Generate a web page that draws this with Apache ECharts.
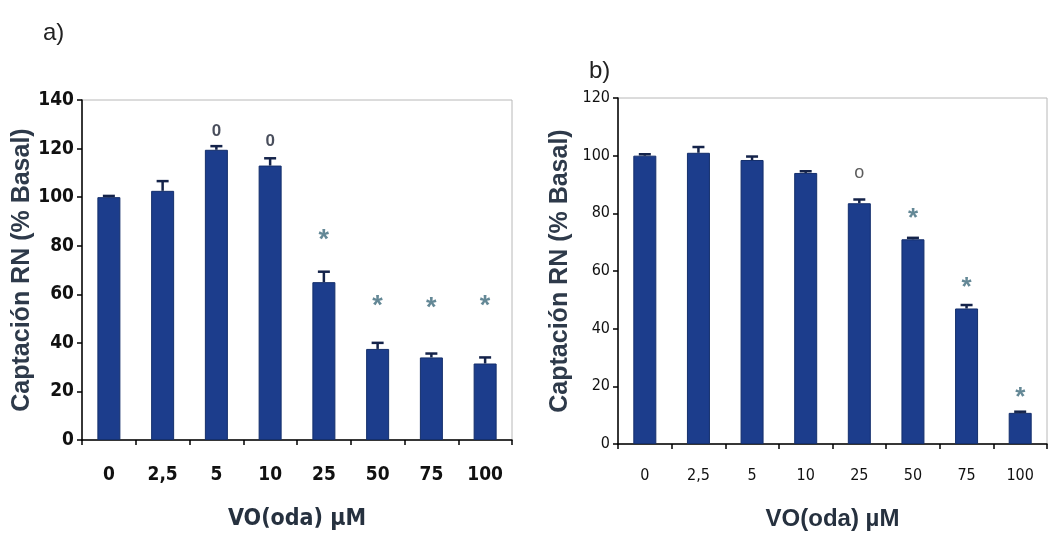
<!DOCTYPE html>
<html>
<head>
<meta charset="utf-8">
<script src="https://cdn.jsdelivr.net/npm/echarts@6/dist/echarts.min.js"></script>
<style>
  html, body { margin: 0; padding: 0; background: #fff; }
  #chart { width: 1048px; height: 536px; }
</style>
</head>
<body>
<div id="chart"></div>
<script>
// categorías (concentración VO(oda), µM)
const doses = ['0', '2,5', '5', '10', '25', '50', '75', '100'];

// panel a)
const valuesA = [100, 102.6, 119.5, 113, 65, 37.5, 34, 31.5];
const errorsA = [0.5, 4, 1.5, 3, 4.3, 2.5, 1.6, 2.5];
const marksA = ['', '', '0', '0', '*', '*', '*', '*'];
const marksAY = [null, null, 127, 123, 82, 55, 54, 55];

// panel b)
const valuesB = [100, 101, 98.5, 94, 83.5, 71, 47, 10.8];
const errorsB = [0.5, 2, 1.2, 0.6, 1.3, 0.5, 1.2, 0.4];
const marksB = ['', '', '', '', 'o', '*', '*', '*'];
const marksBY = [null, null, null, null, 94, 78, 54, 16];

const yTicksA = { min: 0, max: 140, interval: 20 };
const yTicksB = { min: 0, max: 120, interval: 20 };

const barColor = '#1c3d8c';
const narrow = "'DejaVu Sans Condensed', 'Liberation Sans Narrow', 'Arial Narrow', 'Liberation Sans', sans-serif";
const sans = "'Liberation Sans', sans-serif";

function errorData(vals, errs) {
  return vals.map((v, i) => [i, v, errs[i]]);
}

function markData(marks, ys) {
  return marks.map((m, i) => (m ? [i, ys[i], m] : null)).filter(d => d);
}

function renderError(params, api) {
  const base = api.coord([api.value(0), api.value(1)]);
  const top = api.coord([api.value(0), api.value(1) + api.value(2)]);
  const half = 6;
  const style = { stroke: '#14234a', lineWidth: 2.5 };
  return {
    type: 'group',
    children: [
      { type: 'line', shape: { x1: base[0], y1: base[1], x2: top[0], y2: top[1] }, style: style },
      { type: 'line', shape: { x1: top[0] - half, y1: top[1], x2: top[0] + half, y2: top[1] }, style: style }
    ]
  };
}

function xAxisFor(gridIndex, labelMargin, labelSize, labelWeight, nameGap, nameFont, nameSize) {
  return {
    type: 'category',
    gridIndex: gridIndex,
    data: doses,
    name: 'VO(oda) µM',
    nameLocation: 'middle',
    nameGap: nameGap,
    nameTextStyle: { fontFamily: nameFont, fontWeight: 'bold', fontSize: nameSize, color: '#26313f' },
    axisLine: { lineStyle: { color: '#000', width: 1.5 } },
    axisTick: { show: true, alignWithLabel: false, length: 5, lineStyle: { color: '#000', width: 1.5 } },
    axisLabel: { margin: labelMargin, fontFamily: narrow, fontSize: labelSize, fontWeight: labelWeight, color: '#111' }
  };
}

function yAxisFor(gridIndex, ticks, nameGap, labelSize, labelWeight) {
  return {
    type: 'value',
    gridIndex: gridIndex,
    min: ticks.min,
    max: ticks.max,
    interval: ticks.interval,
    name: 'Captación RN (% Basal)',
    nameLocation: 'middle',
    nameRotate: 90,
    nameGap: nameGap,
    nameTextStyle: { fontFamily: sans, fontWeight: 'bold', fontSize: 25, color: '#2e3a4a' },
    splitLine: { show: false },
    axisLine: { show: true, lineStyle: { color: '#000', width: 1.5 } },
    axisTick: { show: true, length: 5, lineStyle: { color: '#000', width: 1.5 } },
    axisLabel: { margin: 8, fontFamily: narrow, fontSize: labelSize, fontWeight: labelWeight, color: '#111' }
  };
}

function markSeries(axisIndex, data, color, size, weight) {
  return {
    type: 'scatter',
    xAxisIndex: axisIndex,
    yAxisIndex: axisIndex,
    data: data,
    symbolSize: 1,
    itemStyle: { color: 'rgba(0,0,0,0)' },
    silent: true,
    label: {
      show: true,
      position: 'inside',
      formatter: p => p.value[2],
      color: color,
      fontSize: size,
      fontWeight: weight,
      fontFamily: sans
    },
    z: 5
  };
}

const chart = echarts.init(document.getElementById('chart'));

const option = {
  backgroundColor: '#fff',
  animation: false,
  title: [
    { text: 'a)', left: 38, top: 16, textStyle: { fontSize: 24, fontWeight: 'normal', color: '#222', fontFamily: sans } },
    { text: 'b)', left: 584, top: 54, textStyle: { fontSize: 24, fontWeight: 'normal', color: '#222', fontFamily: sans } }
  ],
  grid: [
    { left: 82, top: 100, width: 430, height: 343, show: true, borderColor: '#b8b8b8', borderWidth: 1, backgroundColor: '#fff' },
    { left: 618, top: 98, width: 429, height: 346, show: true, borderColor: '#b8b8b8', borderWidth: 1, backgroundColor: '#fff' }
  ],
  xAxis: [
    xAxisFor(0, 26, 19, 'bold', 68, narrow, 23),
    xAxisFor(1, 24, 16, 'normal', 63, sans, 24)
  ],
  yAxis: [yAxisFor(0, yTicksA, 43, 19, 'bold'), yAxisFor(1, yTicksB, 45, 16, 'normal')],
  series: [
    {
      type: 'bar',
      xAxisIndex: 0,
      yAxisIndex: 0,
      data: valuesA,
      barWidth: 23,
      itemStyle: { color: barColor, borderColor: '#142f6c', borderWidth: 1 }
    },
    {
      type: 'custom',
      xAxisIndex: 0,
      yAxisIndex: 0,
      data: errorData(valuesA, errorsA),
      renderItem: renderError,
      encode: { x: 0, y: 1 },
      z: 4
    },
    markSeries(0, markData(marksA.map(m => (m === '*' ? '' : m)), marksAY), '#1b2233', 17, 'bold'),
    markSeries(0, markData(marksA.map(m => (m === '*' ? m : '')), marksAY), '#3d6a7c', 27, 'bold'),
    {
      type: 'bar',
      xAxisIndex: 1,
      yAxisIndex: 1,
      data: valuesB,
      barWidth: 23,
      itemStyle: { color: barColor, borderColor: '#142f6c', borderWidth: 1 }
    },
    {
      type: 'custom',
      xAxisIndex: 1,
      yAxisIndex: 1,
      data: errorData(valuesB, errorsB),
      renderItem: renderError,
      encode: { x: 0, y: 1 },
      z: 4
    },
    markSeries(1, markData(marksB.map(m => (m === '*' ? '' : m)), marksBY), '#333', 18, 'normal'),
    markSeries(1, markData(marksB.map(m => (m === '*' ? m : '')), marksBY), '#3d6a7c', 26, 'bold')
  ]
};

chart.setOption(option);
</script>
</body>
</html>
